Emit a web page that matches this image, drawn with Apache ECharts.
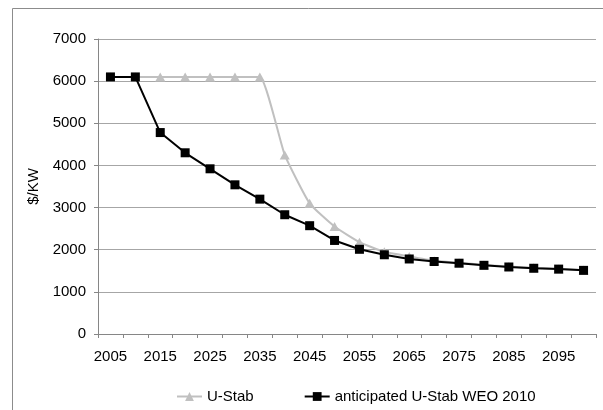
<!DOCTYPE html>
<html>
<head>
<meta charset="utf-8">
<script src="https://cdn.jsdelivr.net/npm/echarts@6/dist/echarts.min.js"></script>
<style>
html,body{margin:0;padding:0;background:#fff;}
#chart{width:603px;height:410px;}
</style>
</head>
<body>
<div id="chart"></div>
<script>
var years = ['2005','2010','2015','2020','2025','2030','2035','2040','2045','2050','2055','2060','2065','2070','2075','2080','2085','2090','2095','2100'];
var uStab = [6100,6100,6100,6100,6100,6100,6100,4250,3100,2550,2180,1950,1840,1740,1690,1640,1600,1570,1545,1520];
var anticipated = [6100,6100,4780,4300,3920,3540,3200,2830,2570,2220,2010,1880,1780,1720,1680,1630,1590,1560,1540,1510];
var seriesNames = ['U-Stab','anticipated U-Stab WEO 2010'];
var yTitle = '$/KW';

var chart = echarts.init(document.getElementById('chart'), null, {renderer:'canvas'});
var font = 'Liberation Sans, Arial, sans-serif';
chart.setOption({
  animation:false,
  backgroundColor:'#fff',
  textStyle:{fontFamily:font, color:'#000'},
  graphic:[{
    type:'polyline',
    shape:{points:[[12.5,420],[12.5,8.5],[620,8.5]]},
    style:{stroke:'#8c8c8c', lineWidth:1, fill:null},
    silent:true
  }],
  grid:{left:98, right:7, top:39, bottom:76},
  legend:{
    left:171, top:384,
    itemWidth:25, itemHeight:11, itemGap:50,
    textStyle:{fontFamily:font, fontSize:15, color:'#000'},
    data:seriesNames
  },
  xAxis:{
    type:'category',
    data:years,
    boundaryGap:true,
    axisLine:{lineStyle:{color:'#868686', width:1}},
    axisTick:{show:true, length:4, interval:0, lineStyle:{color:'#868686'}},
    axisLabel:{interval:1, margin:15, fontFamily:font, fontSize:15, color:'#000'},
    splitLine:{show:false}
  },
  yAxis:{
    type:'value',
    min:0, max:7000, interval:1000,
    name:yTitle,
    nameLocation:'middle',
    nameGap:41,
    nameRotate:90,
    nameTextStyle:{fontFamily:font, fontSize:15, color:'#000'},
    axisLine:{show:true, lineStyle:{color:'#868686', width:1}},
    axisTick:{show:true, length:4, lineStyle:{color:'#868686'}},
    axisLabel:{margin:12, fontFamily:font, fontSize:15, color:'#000', formatter:function(v){return String(v);}},
    splitLine:{lineStyle:{color:'#a6a6a6', width:1}}
  },
  series:[
    {
      name:seriesNames[0],
      type:'line',
      data:uStab,
      smooth:0.15,
      symbol:'triangle',
      symbolSize:[10,9],
      itemStyle:{color:'#c0c0c0'},
      lineStyle:{color:'#c0c0c0', width:2},
      z:2
    },
    {
      name:seriesNames[1],
      type:'line',
      data:anticipated,
      symbol:'rect',
      symbolSize:9,
      itemStyle:{color:'#000'},
      lineStyle:{color:'#000', width:2},
      z:3
    }
  ]
});
</script>
</body>
</html>
